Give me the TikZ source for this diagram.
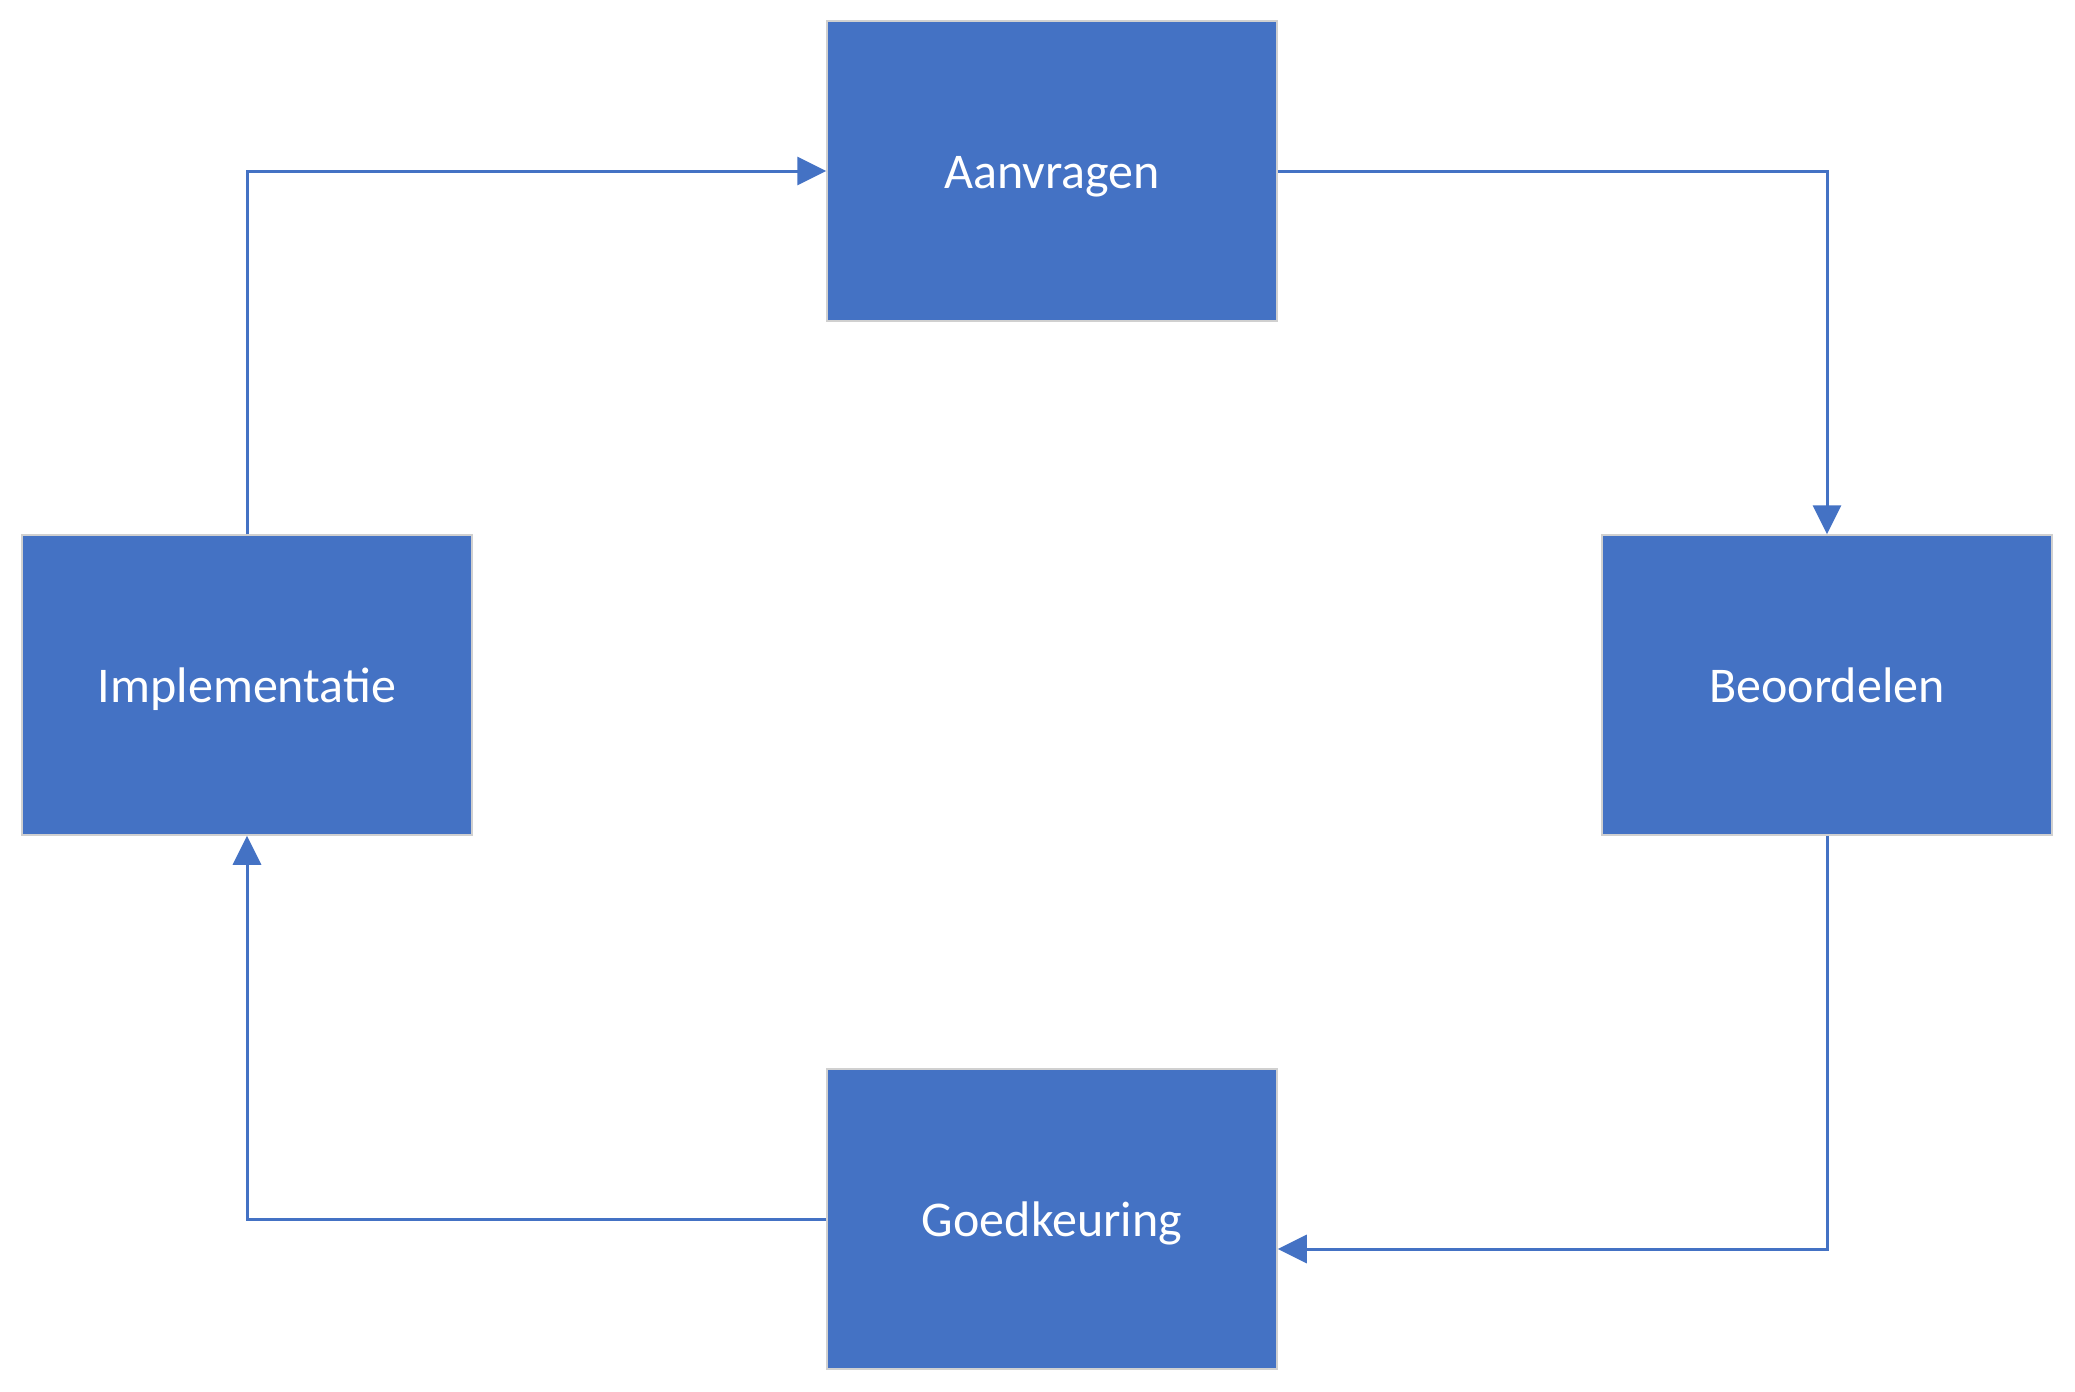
\documentclass[tikz,border=0pt]{standalone}
\usepackage{fontspec}
\setmainfont{Carlito}
\usetikzlibrary{arrows.meta}
\definecolor{boxblue}{HTML}{4472C4}
\definecolor{boxedge}{HTML}{D0D0D0}
\begin{document}
\begin{tikzpicture}[x=1pt,y=-1pt,
  procbox/.style={fill=boxblue,draw=boxedge,line width=1.5pt,minimum width=450pt,minimum height=300pt,inner sep=0pt,text=white,text depth=0pt,text height=34pt,font=\fontsize{50}{60}\selectfont},
  flow/.style={draw=boxblue,line width=3pt,-{Triangle[length=29pt,width=28pt]}}]
\useasboundingbox (0,0) rectangle (2075,1392);
\node[procbox] (aan) at (1052,171) {Aanvragen};
\node[procbox] (imp) at (247,685) {Implementatie};
\node[procbox] (beo) at (1827,685) {Beoordelen};
\node[procbox] (goe) at (1052,1219) {Goedkeuring};
\coordinate (c1) at (247,171);
\coordinate (c2) at (1827,171);
\coordinate (c3) at (1827,1249);
\coordinate (c4) at (247,1219);
\draw[flow] (imp.north) -- (c1) -- (aan.west);
\draw[flow] (aan.east) -- (c2) -- (beo.north);
\draw[flow] (beo.south) -- (c3) -- (goe.east |- c3);
\draw[flow] (goe.west) -- (c4) -- (imp.south);
\end{tikzpicture}
\end{document}
